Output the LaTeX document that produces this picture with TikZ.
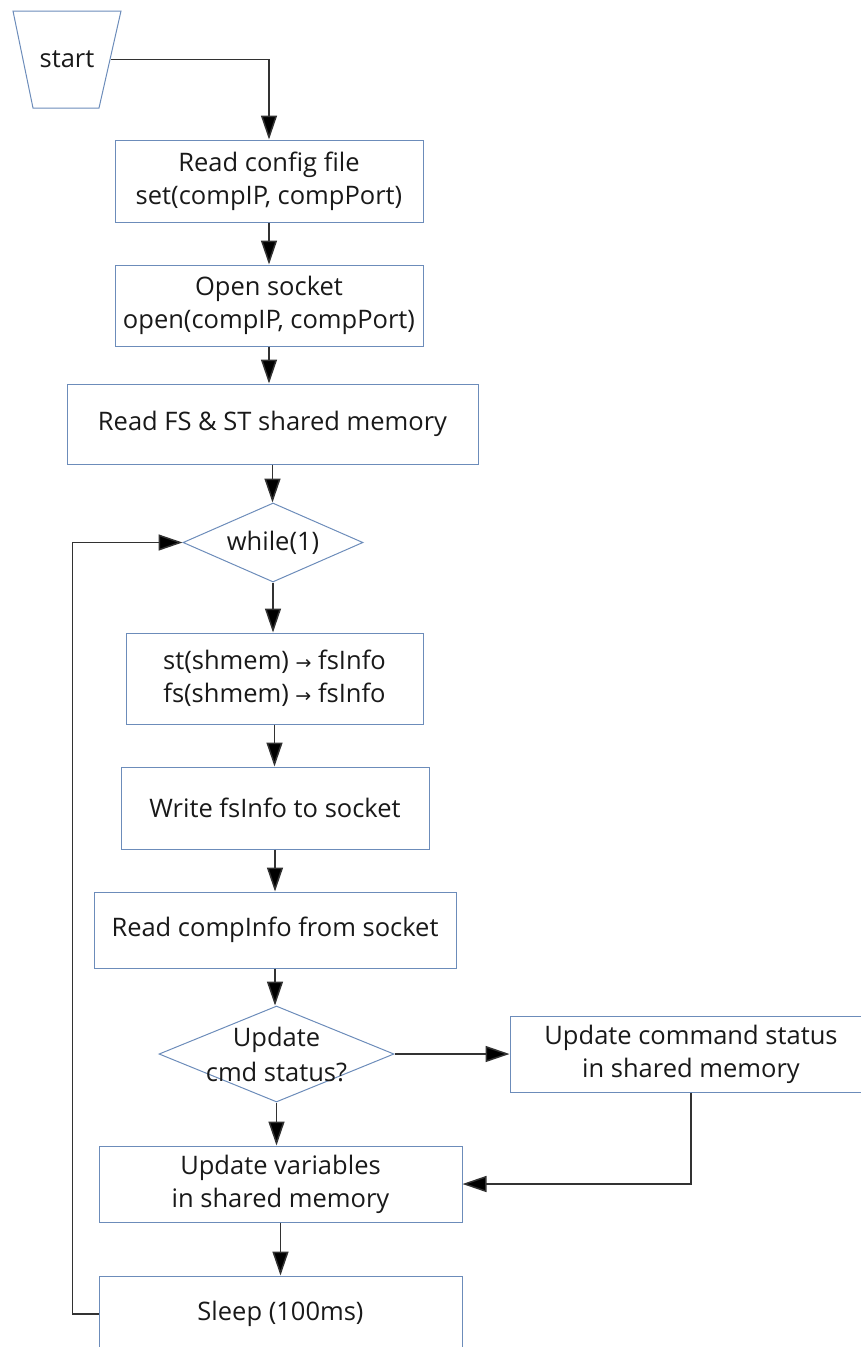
\documentclass[tikz,border=0pt]{standalone}
\usepackage{fontspec}
\setmainfont{Open Sans}
\newfontfamily\arrowfont{DejaVu Sans}
\usetikzlibrary{shapes.geometric,arrows.meta}
\definecolor{boxblue}{RGB}{108,140,186}
\definecolor{linegray}{RGB}{50,50,50}
\definecolor{txtgray}{RGB}{25,25,25}
\newcommand{\toarr}{{\arrowfont\fontsize{19}{19}\selectfont →}}

\begin{document}
\begin{tikzpicture}[x=1pt,y=-1pt,
    every node/.style={font=\fontsize{25.5}{33}\selectfont,text=txtgray},
    stepbox/.style={draw=boxblue,line width=1pt,align=center,inner sep=0pt},
    cond/.style={draw=boxblue,line width=1pt,diamond,inner sep=0pt},
    term/.style={draw=boxblue,line width=1pt},
    flow/.style={draw=linegray,line width=1.5pt,-{Triangle[length=24pt,width=16pt,fill=black]}}]
  \useasboundingbox (0,0) rectangle (861,1347);

  % start block
  \draw[term] (13,11) -- (121,11) -- (99,108) -- (33,108) -- cycle;
  \node (start) at (67,59.5) {start};
  \coordinate (startout) at (110.5,59.5);

  % steps
  \node[stepbox,minimum width=308,minimum height=82] (cfg) at (269,181) {Read config file\\set(compIP, compPort)};
  \node[stepbox,minimum width=308,minimum height=81] (sock) at (269,305.5) {Open socket\\open(compIP, compPort)};
  \node[stepbox,minimum width=411,minimum height=80] (shm) at (272.5,424) {Read FS \& ST shared memory};
  \node[cond,minimum width=180,minimum height=79,label=center:while(1)] (loop) at (273,542.5) {};
  \node[stepbox,minimum width=297,minimum height=91] (conv) at (274.5,678.5) {st(shmem) \toarr{} fsInfo\\fs(shmem) \toarr{} fsInfo};
  \node[stepbox,minimum width=308,minimum height=82] (wrsock) at (275,808) {Write fsInfo to socket};
  \node[stepbox,minimum width=362,minimum height=76] (rdsock) at (275,930) {Read compInfo from socket};
  \node[cond,minimum width=235,minimum height=96,
    label={[align=center,font=\fontsize{25.5}{35}\selectfont]center:Update\\cmd status?}] (chk) at (276.5,1054) {};
  \node[stepbox,minimum width=362,minimum height=76] (cmdst) at (691,1054) {Update command status\\in shared memory};
  \node[stepbox,minimum width=363,minimum height=76] (vars) at (280.5,1184) {Update variables\\in shared memory};
  \node[stepbox,minimum width=363,minimum height=76] (sleep) at (280.5,1314) {Sleep (100ms)};

  % connectors
  \draw[flow] (startout) -| (cfg.north);
  \draw[flow] (cfg.south) -- (cfg.south |- sock.north);
  \draw[flow] (sock.south) -- (sock.south |- shm.north);
  \draw[flow] (shm.south) -- (shm.south |- loop.north);
  \draw[flow] (loop.south) -- (loop.south |- conv.north);
  \draw[flow] (conv.south) -- (conv.south |- wrsock.north);
  \draw[flow] (wrsock.south) -- (wrsock.south |- rdsock.north);
  \draw[flow] (rdsock.south) -- (rdsock.south |- chk.north);
  \draw[flow] (chk.east) -- (cmdst.west);
  \draw[flow] (chk.south) -- (chk.south |- vars.north);
  \draw[flow] (cmdst.south) |- (vars.east);
  \draw[flow] (vars.south) -- (vars.south |- sleep.north);
  \draw[flow] (sleep.west) -- ++(-26,0) |- (loop.west);
\end{tikzpicture}
\end{document}
